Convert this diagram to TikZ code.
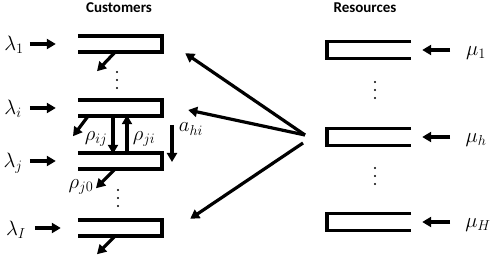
\documentclass[tikz,border=0pt]{standalone}
\usepackage{fontspec}
\newfontfamily\titlefont{Carlito}
\usetikzlibrary{arrows.meta}
\begin{document}
\begin{tikzpicture}[x=1pt,y=-1pt,
  qbox/.style={rectangle,draw=none,minimum width=84pt,minimum height=16pt,inner sep=0pt},
  q/.style={line width=3.5pt,line join=miter},
  ar/.style={line width=3.2pt,-{Triangle[length=9pt,width=10pt]}},
  lab/.style={font=\fontsize{20}{23}\selectfont,inner sep=0pt},
  ttl/.style={font=\titlefont\bfseries\fontsize{15}{17}\selectfont,inner sep=0pt}]
\useasboundingbox (0,0) rectangle (500,256);
% titles
\node[ttl] (tc) at (119,8) {Customers};
\node[ttl] (tr) at (365,8) {Resources};
% customer queues
\node[qbox] (c1) at (120,44) {};
\node[qbox] (ci) at (120,108) {};
\node[qbox] (cj) at (120,161) {};
\node[qbox] (cI) at (120,228) {};
\foreach \c in {c1,ci,cj,cI}
  \draw[q] (\c.north west) -- (\c.north east) -- (\c.south east) -- (\c.south west);
% resource queues
\node[qbox,minimum height=17pt] (r1) at (369,50) {};
\node[qbox,minimum height=17pt] (rh) at (369,137) {};
\node[qbox,minimum height=17pt] (rH) at (369,222) {};
\foreach \r in {r1,rh,rH}
  \draw[q] (\r.north east) -- (\r.north west) -- (\r.south west) -- (\r.south east);
% lambda labels and arrows
\node[lab] (l1) at (14,45) {$\lambda_1$};
\node[lab] (li) at (13,109) {$\lambda_i$};
\node[lab] (lj) at (13,163) {$\lambda_j$};
\node[lab] (lI) at (16,230) {$\lambda_I$};
\draw[ar] ([xshift=-48pt]c1.west) -- ([xshift=-22pt]c1.west);
\draw[ar] ([xshift=-48pt]ci.west) -- ([xshift=-22pt]ci.west);
\draw[ar] ([xshift=-48pt]cj.west) -- ([xshift=-22pt]cj.west);
\draw[ar] ([xshift=-43pt]cI.west) -- ([xshift=-17pt]cI.west);
% mu labels and arrows
\node[lab] (m1) at (476,53) {$\mu_1$};
\node[lab] (mh) at (476,140) {$\mu_h$};
\node[lab] (mH) at (478,225) {$\mu_H$};
\draw[ar] ([xshift=39pt]r1.east) -- ([xshift=11pt]r1.east);
\draw[ar] ([xshift=39pt]rh.east) -- ([xshift=11pt]rh.east);
\draw[ar] ([xshift=39pt]rH.east) -- ([xshift=11pt]rH.east);
% departures
\draw[ar] ([xshift=-5pt]c1.south) -- ++(-18,19);
\draw[ar] ([xshift=-32pt]ci.south) -- ++(-15,20);
\draw[ar] ([xshift=-5pt]cj.south) -- ++(-19,19);
\draw[ar] ([xshift=-5pt]cI.south) -- ++(-18,18);
% routing between i and j
\draw[ar] ([xshift=-7pt]ci.south) -- ([xshift=-7pt,yshift=-1pt]cj.north);
\draw[ar] ([xshift=7pt]cj.north) -- ([xshift=7pt,yshift=1pt]ci.south);
\node[lab] (rij) at (96,139) {$\rho_{ij}$};
\node[lab] (rji) at (144,139) {$\rho_{ji}$};
\node[lab] (rj0) at (81,187) {$\rho_{j0}$};
% a_hi
\coordinate (ahs) at (172,125);
\coordinate (ahe) at (172,162);
\draw[ar] (ahs) -- (ahe);
\node[lab] (ahi) at (191,129) {$a_{hi}$};
% fan
\coordinate (fan) at (305,135);
\coordinate (fan2) at (303,143);
\draw[ar] (fan) -- ([shift={(23,1)}]c1.south east);
\draw[ar] (fan) -- ([shift={(26,2)}]ci.east);
\draw[ar] (fan2) -- ([shift={(28,-1)}]cI.north east);
% dots
\foreach \yy in {0,8,16} {
  \fill (117,72+\yy) circle (1.1pt);
  \fill (118,190+\yy) circle (1.1pt);
  \fill (375,82+\yy) circle (1.1pt);
  \fill (375,168+\yy) circle (1.1pt);
}
\end{tikzpicture}
\end{document}
